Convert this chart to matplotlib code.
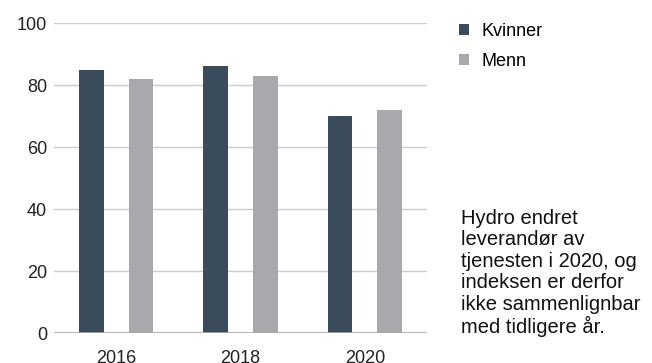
import matplotlib
matplotlib.use("Agg")
import matplotlib.pyplot as plt
import numpy as np

plt.rcParams['font.family'] = ['Liberation Sans', 'DejaVu Sans']

years = ["2016", "2018", "2020"]
kvinner = [85, 86, 70]
menn = [82, 83, 72]
series_names = ["Kvinner", "Menn"]
y_ticks = [0, 20, 40, 60, 80, 100]
note = ("Hydro endret\nleverandør av\ntjenesten i 2020, og\n"
        "indeksen er derfor\nikke sammenlignbar\nmed tidligere år.")

W, H = 652, 363
fig = plt.figure(figsize=(W / 100, H / 100), dpi=100)
ax = fig.add_axes([54 / W, (H - 333) / H, (427 - 54) / W, 310 / H])

x = np.arange(len(years))
bw = 0.2
b1 = ax.bar(x - bw, kvinner, width=bw, color="#3a4b5c", zorder=3, label=series_names[0])
b2 = ax.bar(x + bw, menn, width=bw, color="#a8a9ac", zorder=3, label=series_names[1])

ax.set_xlim(-0.5, len(years) - 0.5)
ax.set_ylim(0, 100)
ax.set_yticks(y_ticks)
ax.set_xticks(x)
ax.set_xticklabels(years)
ax.tick_params(axis="both", length=0, labelsize=13, colors="#222222")
ax.tick_params(axis="y", pad=5)
ax.tick_params(axis="x", pad=12)
ax.yaxis.grid(True, color="#cccccc", linewidth=1, zorder=0)
for s in ax.spines.values():
    s.set_visible(False)
ax.axhline(0, color="#aaaaaa", linewidth=1.2, zorder=4)

fig.legend(handles=[b1, b2], labels=series_names, loc="upper left",
           bbox_to_anchor=(459 / W, 1 - 22.5 / H), frameon=False, fontsize=13,
           handlelength=0.55, handleheight=0.55, handletextpad=0.7,
           labelspacing=0.72, borderaxespad=0, borderpad=0)

fig.text(461 / W, 1 - 209 / H, note, ha="left", va="top", fontsize=14.5,
         linespacing=1.16, color="#111111")

fig.savefig("out.png", dpi=100)
